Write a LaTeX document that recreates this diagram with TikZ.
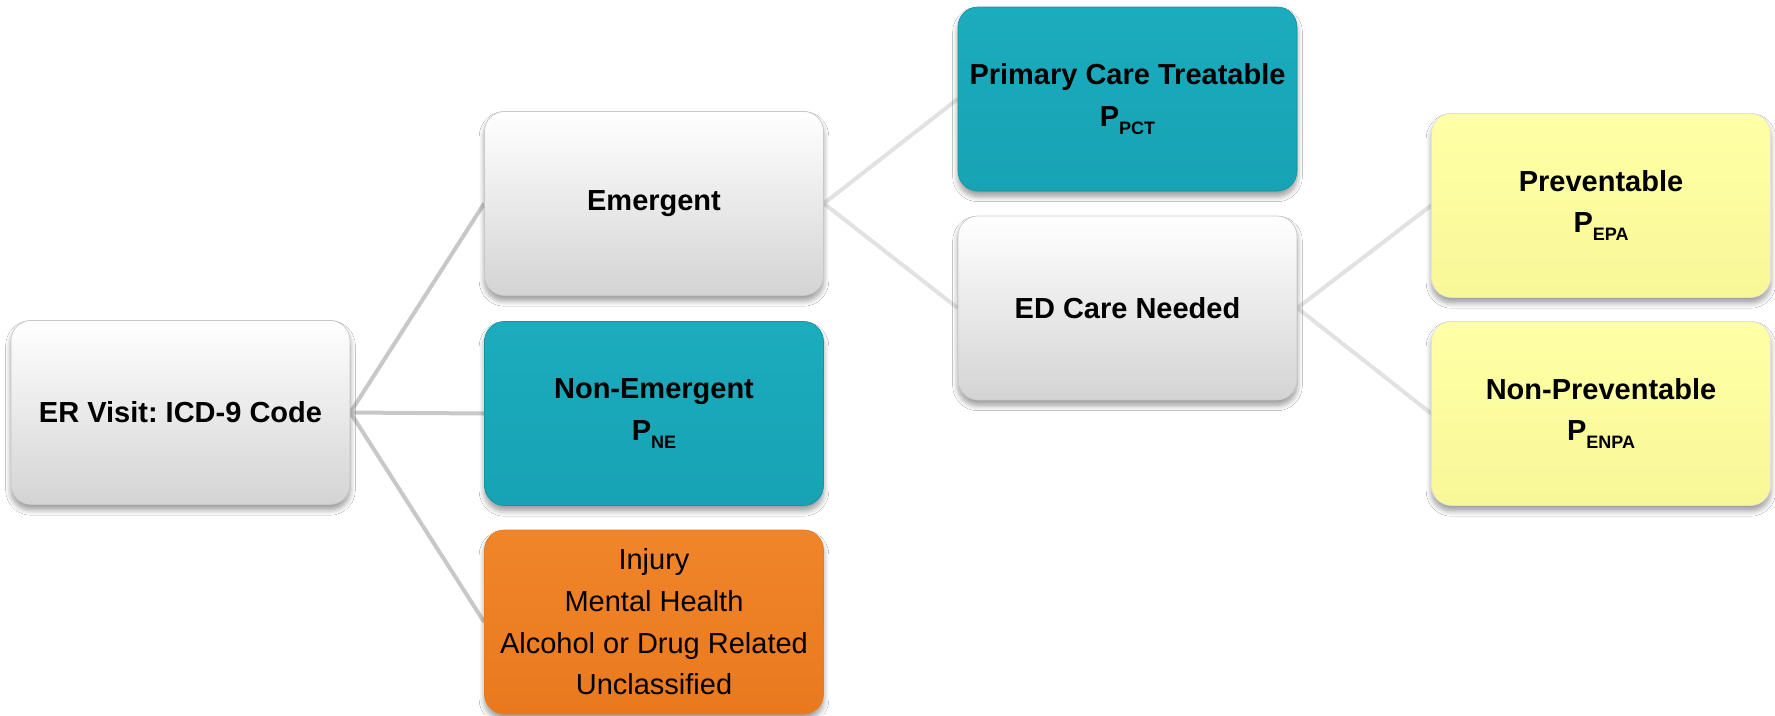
\documentclass[tikz,border=0pt]{standalone}
\usepackage{fontspec}
\setmainfont{Liberation Sans}
\usetikzlibrary{shadows.blur,backgrounds}
\frenchspacing
\definecolor{tealtop}{HTML}{1BACBE}
\definecolor{tealbot}{HTML}{17A3B4}
\definecolor{orangetop}{HTML}{F08529}
\definecolor{orangebot}{HTML}{EA791E}
\definecolor{yellowtop}{HTML}{FFFFA6}
\definecolor{yellowbot}{HTML}{F8F898}
\definecolor{linedark}{HTML}{C8C8C8}
\definecolor{linelight}{HTML}{E2E2E2}
\newcommand{\sbs}[1]{\raisebox{-6pt}{\fontsize{13.5}{13.5}\selectfont #1}}
\tikzset{
  boxbase/.style={rounded corners=15pt, minimum width=254.25pt, minimum height=138pt,
    inner sep=0pt, align=center, text=black,
    font=\fontsize{21.75}{31.3}\selectfont\bfseries,
    blur shadow={shadow xshift=0pt, shadow yshift=-4pt, shadow blur radius=4pt, shadow blur steps=8, shadow opacity=40}},
  whitebox/.style={boxbase, draw=black!22, line width=0.5pt,
    top color=white, middle color=white!96!black, bottom color=black!17},
  tealnode/.style={boxbase, draw=tealbot!90!black, line width=0.5pt, top color=tealtop, bottom color=tealbot},
  orangenode/.style={boxbase, draw=orangebot, line width=0.5pt, top color=orangetop, bottom color=orangebot},
  yellownode/.style={boxbase, draw=black!12, line width=0.5pt, top color=yellowtop, bottom color=yellowbot},
  darkline/.style={draw=linedark, line width=3pt},
  lightline/.style={draw=linelight, line width=3pt}
}
\begin{document}
\begin{tikzpicture}[x=0.75pt,y=-0.75pt]
\useasboundingbox (0,0) rectangle (1775,715);
\node[whitebox] (er) at (180.5,412.5) {ER Visit: ICD-9 Code};
\node[whitebox] (em) at (654,203.5) {Emergent};
\node[tealnode] (ne) at (654,413.5) {Non-Emergent\\P\sbs{NE}};
\node[orangenode, font=\fontsize{21.75}{31.3}\selectfont\mdseries] (inj) at (654,622) {Injury\\Mental Health\\Alcohol or Drug Related\\Unclassified};
\node[tealnode] (pct) at (1127.5,99) {Primary Care Treatable\\P\sbs{PCT}};
\node[whitebox] (ed) at (1127.5,308) {ED Care Needed};
\node[yellownode] (prev) at (1601,205.5) {Preventable\\P\sbs{EPA}};
\node[yellownode] (nprev) at (1601,413.5) {Non-Preventable\\P\sbs{ENPA}};
\begin{scope}[on background layer]
\fill[white] (0,0) rectangle (1775,715);
\draw[darkline] (er.east) -- (em.west);
\draw[darkline] (er.east) -- (ne.west);
\draw[darkline] (er.east) -- (inj.west);
\draw[lightline] (em.east) -- (pct.west);
\draw[lightline] (em.east) -- (ed.west);
\draw[lightline] (ed.east) -- (prev.west);
\draw[lightline] (ed.east) -- (nprev.west);
\end{scope}
\end{tikzpicture}
\end{document}
